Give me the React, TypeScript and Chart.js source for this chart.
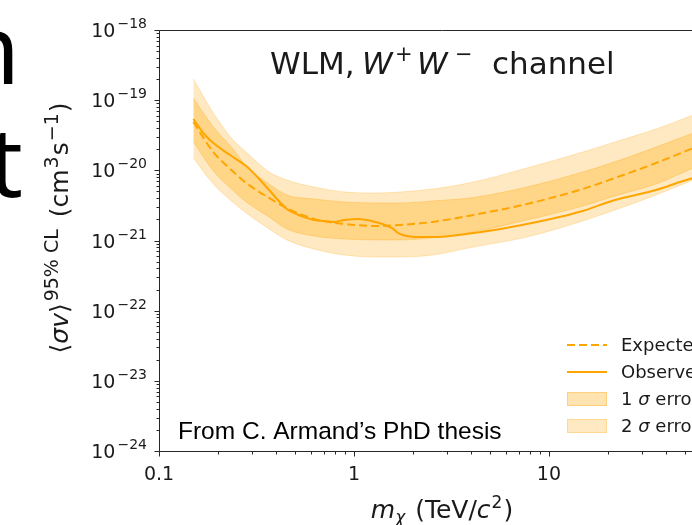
import React, { useEffect, useRef } from "react";
import { Chart, registerables } from "chart.js";
Chart.register(...registerables);

// ---- data ----
const bandMass = [0.15, 0.19, 0.235, 0.28, 0.367, 0.453, 0.623, 0.894, 1.31, 1.72, 2.53, 4.1, 7.71, 14.9, 21.8, 35.4, 55];
const sigma2Upper = [2.0e-19, 6.56e-20, 2.89e-20, 1.82e-20, 9.46e-21, 7.28e-21, 5.79e-21, 4.91e-21, 4.75e-21, 4.91e-21, 5.42e-21, 6.82e-21, 1.08e-20, 1.82e-20, 2.54e-20, 3.88e-20, 6.15e-20];
const sigma1Upper = [1.07e-19, 4.15e-20, 2.15e-20, 1.15e-20, 6.38e-21, 4.45e-21, 3.91e-21, 3.54e-21, 3.42e-21, 3.42e-21, 3.66e-21, 4.1e-21, 5.79e-21, 9.46e-21, 1.32e-20, 2.15e-20, 3.4e-20];
const expected = [4.89e-20, 1.82e-20, 1.01e-20, 6.61e-21, 4.04e-21, 2.9e-21, 2.03e-21, 1.72e-21, 1.61e-21, 1.66e-21, 1.84e-21, 2.31e-21, 3.31e-21, 5.42e-21, 7.78e-21, 1.27e-20, 2.08e-20];
const sigma1Lower = [2.54e-20, 9.79e-21, 5.42e-21, 3.54e-21, 2.16e-21, 1.46e-21, 1.16e-21, 1.05e-21, 1.02e-21, 1.02e-21, 1.09e-21, 1.32e-21, 1.96e-21, 3.1e-21, 4.31e-21, 6.38e-21, 1.08e-20];
const sigma2Lower = [1.5e-20, 6.38e-21, 3.66e-21, 2.47e-21, 1.46e-21, 1.02e-21, 7.57e-22, 6.21e-22, 5.82e-22, 5.82e-22, 6.21e-22, 8.07e-22, 1.12e-21, 1.9e-21, 2.72e-21, 4.45e-21, 7.28e-21];

const obsMass = [0.15, 0.172, 0.19, 0.235, 0.28, 0.323, 0.367, 0.453, 0.538, 0.623, 0.707, 0.79, 0.894, 1.06, 1.23, 1.4, 1.56, 1.72, 2.13, 2.53, 4.1, 5.63, 7.71, 11.3, 14.9, 21.8, 35.4, 48.7, 55];
const observed = [5.39e-20, 3.19e-20, 2.45e-20, 1.6e-20, 1.15e-20, 7.78e-21, 5.25e-21, 2.81e-21, 2.23e-21, 1.96e-21, 1.9e-21, 1.84e-21, 1.96e-21, 2.03e-21, 1.9e-21, 1.72e-21, 1.51e-21, 1.24e-21, 1.12e-21, 1.12e-21, 1.28e-21, 1.46e-21, 1.72e-21, 2.16e-21, 2.64e-21, 3.78e-21, 5.25e-21, 7.05e-21, 7.78e-21];

const xTickValues = [0.1, 1, 10];
const xTickLabels = ["0.1", "1", "10"];
const yTickExponents = [-24, -23, -22, -21, -20, -19, -18];
const legendLabels = ["Expected", "Observed", "1 σ error", "2 σ error"];
const annotationText = "From C. Armand\u2019s PhD thesis";
const slideFragments = ["n", "t"];

const X_MIN = 0.1;
const X_MAX = 80;
const Y_MIN = 1e-24;
const Y_MAX = 1e-18;

// ---- styles ----
const LINE = "#FFA500";
const BAND1 = "rgba(255,165,0,0.30)";
const BAND2 = "rgba(255,165,0,0.24)";
const CANVAS_W = 800;
const CANVAS_H = 525;
const AREA_LEFT = 159;
const AREA_RIGHT = 725;
const AREA_TOP = 30;
const AREA_BOTTOM = 451;
const DV = "'DejaVu Sans'";

type Piece = { t: string; size: number; italic?: boolean; dy?: number; dx?: number; x?: number };

function pf(p: Piece) {
  return `${p.italic ? "italic " : ""}${p.size}px ${DV}`;
}
function measurePieces(ctx: CanvasRenderingContext2D, ps: Piece[]) {
  let w = 0;
  for (const p of ps) {
    ctx.font = pf(p);
    w += ctx.measureText(p.t).width + (p.dx || 0);
  }
  return w;
}
function drawPieces(ctx: CanvasRenderingContext2D, ps: Piece[], x: number, y: number) {
  let cx = x;
  for (const p of ps) {
    if (p.x !== undefined) cx = p.x;
    cx += p.dx || 0;
    ctx.font = pf(p);
    ctx.fillText(p.t, cx, y + (p.dy || 0));
    cx += ctx.measureText(p.t).width;
  }
}

const decor = {
  id: "decor",
  afterDraw(chart: any) {
    const { ctx, chartArea: a, scales } = chart;
    const xs = scales.x;
    const ys = scales.y;
    ctx.save();
    ctx.fillStyle = "#1a1a1a";
    ctx.strokeStyle = "#262626";
    ctx.lineWidth = 1;
    const L = Math.round(a.left) + 0.5;
    const B = Math.round(a.bottom) + 0.5;
    const T = Math.round(a.top) + 0.5;
    const R = Math.round(a.right) + 0.5;
    ctx.beginPath();
    ctx.moveTo(L, T); ctx.lineTo(R, T); ctx.lineTo(R, B); ctx.lineTo(L, B); ctx.closePath();
    ctx.stroke();

    // y ticks (major + minor)
    ctx.beginPath();
    for (let e = -24; e <= -18; e++) {
      for (let k = 1; k <= 9; k++) {
        const v = k * Math.pow(10, e);
        if (v > Y_MAX * 1.0001) break;
        const py = Math.round(ys.getPixelForValue(v)) + 0.5;
        const len = k === 1 ? 5 : 3;
        ctx.moveTo(L - len, py); ctx.lineTo(L, py);
      }
    }
    // x ticks (major + minor)
    for (let e = -1; e <= 1; e++) {
      for (let k = 1; k <= 9; k++) {
        const v = k * Math.pow(10, e);
        if (v > X_MAX * 1.0001) break;
        const px = Math.round(xs.getPixelForValue(v)) + 0.5;
        const len = k === 1 ? 5 : 3;
        ctx.moveTo(px, B); ctx.lineTo(px, B + len);
      }
    }
    ctx.stroke();

    // y tick labels
    ctx.textAlign = "left";
    ctx.textBaseline = "alphabetic";
    for (const e of yTickExponents) {
      const py = ys.getPixelForValue(Math.pow(10, e));
      const sup = "\u2212" + Math.abs(e);
      ctx.font = `14px ${DV}`;
      const sw = ctx.measureText(sup).width;
      ctx.font = `19px ${DV}`;
      const tw = ctx.measureText("10").width;
      const right = 147;
      ctx.fillText("10", right - sw - tw - 2, py + 7);
      ctx.font = `14px ${DV}`;
      ctx.fillText(sup, right - sw, py - 2);
    }
    // x tick labels
    ctx.textAlign = "center";
    ctx.font = `19px ${DV}`;
    xTickValues.forEach((v, i) => {
      ctx.fillText(xTickLabels[i], xs.getPixelForValue(v), 480);
    });
    ctx.textAlign = "left";

    // x axis title
    const xt: Piece[] = [
      { t: "m", size: 25, italic: true },
      { t: "\u03c7", size: 17, italic: true, dy: 5 },
      { t: " (TeV/", size: 25, dx: 2 },
      { t: "c", size: 25, italic: true },
      { t: "2", size: 17, dy: -10, dx: 1 },
      { t: ")", size: 25, dx: 1 },
    ];
    const xw = measurePieces(ctx, xt);
    drawPieces(ctx, xt, 442 - xw / 2, 518);

    // y axis title (rotated)
    const s = 25;
    const ss = 19;
    const yt: Piece[] = [
      { t: "\u27e8", size: s },
      { t: "\u03c3v", size: s, italic: true },
      { t: "\u27e9", size: s },
      { t: "95% CL", size: ss, dy: -10, dx: 2 },
      { t: " (cm", size: s, dx: 4 },
      { t: "3", size: ss, dy: -10, dx: 1 },
      { t: "s", size: s, dx: 1 },
      { t: "\u22121", size: ss, dy: -10, dx: 1 },
      { t: ")", size: s, dx: 1 },
    ];
    const yw = measurePieces(ctx, yt);
    ctx.save();
    ctx.translate(68, 228);
    ctx.rotate(-Math.PI / 2);
    drawPieces(ctx, yt, -yw / 2, 0);
    ctx.restore();

    // plot title
    const tt: Piece[] = [
      { t: "WLM,", size: 31, x: 270 },
      { t: "W", size: 31, italic: true, x: 362 },
      { t: "+", size: 21, dy: -13, x: 395 },
      { t: "W", size: 31, italic: true, x: 417 },
      { t: "\u2212", size: 21, dy: -13, x: 455 },
      { t: "channel", size: 31, x: 492 },
    ];
    drawPieces(ctx, tt, 270, 74);

    // legend
    const lx0 = 567, lx1 = 607, tx = 621;
    const rows = [345, 372, 399, 426];
    ctx.strokeStyle = LINE;
    ctx.lineWidth = 2;
    ctx.setLineDash([8, 4]);
    ctx.beginPath(); ctx.moveTo(lx0, rows[0]); ctx.lineTo(lx1, rows[0]); ctx.stroke();
    ctx.setLineDash([]);
    ctx.beginPath(); ctx.moveTo(lx0, rows[1]); ctx.lineTo(lx1, rows[1]); ctx.stroke();
    ctx.lineWidth = 1;
    ctx.fillStyle = BAND1; ctx.strokeStyle = BAND1;
    ctx.fillRect(lx0, rows[2] - 7, lx1 - lx0, 14); ctx.strokeRect(lx0 + 0.5, rows[2] - 6.5, lx1 - lx0 - 1, 13);
    ctx.fillStyle = BAND2; ctx.strokeStyle = BAND2;
    ctx.fillRect(lx0, rows[3] - 7, lx1 - lx0, 14); ctx.strokeRect(lx0 + 0.5, rows[3] - 6.5, lx1 - lx0 - 1, 13);
    ctx.fillStyle = "#1a1a1a";
    legendLabels.forEach((lab, i) => {
      const parts = lab.split("σ");
      if (parts.length === 2) {
        drawPieces(ctx, [
          { t: parts[0], size: 18 },
          { t: "σ", size: 18, italic: true },
          { t: parts[1], size: 18 },
        ], tx, rows[i] + 6);
      } else {
        drawPieces(ctx, [{ t: lab, size: 18 }], tx, rows[i] + 6);
      }
    });

    // annotation
    ctx.fillStyle = "#000";
    ctx.font = "24.5px 'Liberation Sans'";
    ctx.fillText(annotationText, 178, 439);

    // slide fragments at the left edge
    ctx.textAlign = "right";
    ctx.font = "96px 'Noto Sans'";
    ctx.fillText(slideFragments[0], 20, 84);
    ctx.fillText(slideFragments[1], 23, 197);
    ctx.restore();
  },
};

export default function App() {
  const ref = useRef<HTMLCanvasElement>(null);
  useEffect(() => {
    const canvas = ref.current!;
    const pts = (xsArr: number[], ysArr: number[]) => xsArr.map((x, i) => ({ x, y: ysArr[i] }));
    const common = { pointRadius: 0, cubicInterpolationMode: "monotone" as const };
    const chart = new Chart(canvas, {
      type: "line",
      data: {
        datasets: [
          { label: "Observed", data: pts(obsMass, observed), borderColor: LINE, borderWidth: 2, fill: false, ...common },
          { label: "Expected", data: pts(bandMass, expected), borderColor: LINE, borderWidth: 2, borderDash: [8, 4], fill: false, ...common },
          { label: "1σ upper", data: pts(bandMass, sigma1Upper), borderColor: BAND1, backgroundColor: BAND1, borderWidth: 1, fill: 3, ...common },
          { label: "1σ lower", data: pts(bandMass, sigma1Lower), borderColor: BAND1, backgroundColor: BAND1, borderWidth: 1, fill: false, ...common },
          { label: "2σ upper", data: pts(bandMass, sigma2Upper), borderColor: BAND2, backgroundColor: BAND2, borderWidth: 1, fill: 5, ...common },
          { label: "2σ lower", data: pts(bandMass, sigma2Lower), borderColor: BAND2, backgroundColor: BAND2, borderWidth: 1, fill: false, ...common },
        ],
      } as any,
      options: {
        responsive: false,
        animation: false,
        devicePixelRatio: 1,
        events: [],
        layout: { padding: { top: AREA_TOP, right: CANVAS_W - AREA_RIGHT, bottom: 0, left: 0 } },
        plugins: {
          legend: { display: false },
          tooltip: { enabled: false },
          filler: { drawTime: "beforeDatasetsDraw" },
        } as any,
        scales: {
          x: {
            type: "logarithmic",
            min: X_MIN,
            max: X_MAX,
            grid: { display: false },
            border: { display: false },
            ticks: { display: false },
            afterFit: (sc: any) => { sc.height = CANVAS_H - AREA_BOTTOM; },
          },
          y: {
            type: "logarithmic",
            min: Y_MIN,
            max: Y_MAX,
            grid: { display: false },
            border: { display: false },
            ticks: { display: false },
            afterFit: (sc: any) => { sc.width = AREA_LEFT; },
          },
        } as any,
      },
      plugins: [decor],
    });
    return () => chart.destroy();
  }, []);
  return (
    <div style={{ position: "fixed", left: 0, top: 0, width: 692, height: 525, overflow: "hidden", background: "#fff" }}>
      <canvas ref={ref} width={CANVAS_W} height={CANVAS_H} style={{ display: "block", width: CANVAS_W, height: CANVAS_H }} />
    </div>
  );
}
